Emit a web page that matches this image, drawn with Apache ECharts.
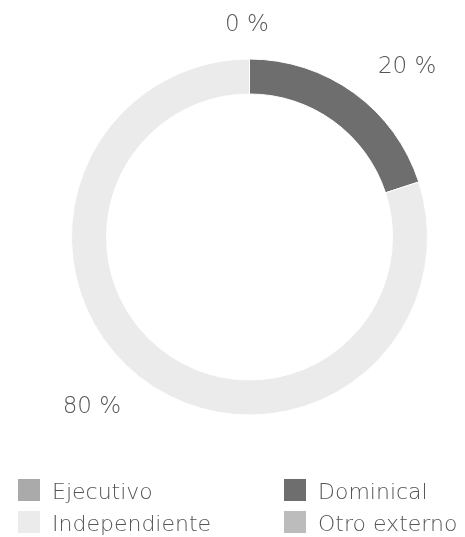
<!DOCTYPE html>
<html>
<head>
<meta charset="utf-8">
<script src="https://cdn.jsdelivr.net/npm/echarts@6/dist/echarts.min.js"></script>
<style>
html,body{margin:0;padding:0;background:#fff;}
#c{width:465px;height:537px;}
</style>
</head>
<body>
<div id="c"></div>
<script>
var categories = ['Ejecutivo', 'Dominical', 'Independiente', 'Otro externo'];
var values = [0, 20, 80, 0];
var colors = ['#aaaaaa', '#6e6e6e', '#ebebeb', '#bcbcbc'];
var showLabel = [true, true, true, false];

var chart = echarts.init(document.getElementById('c'));
var FONT = 'DejaVu Sans';
var data = categories.map(function (n, i) {
  return { name: n, value: values[i], itemStyle: { color: colors[i] }, label: { show: showLabel[i] } };
});
function legendAt(name, left, top) {
  return {
    data: [name], left: left, top: top, orient: 'horizontal',
    itemWidth: 24, itemHeight: 24, itemGap: 0, padding: 0,
    icon: 'rect', selectedMode: false,
    formatter: '{t|{name}}',
    textStyle: {
      fontFamily: FONT, fontWeight: 200, fontSize: 22, color: '#555555',
      rich: { t: { fontFamily: FONT, fontWeight: 200, fontSize: 22, color: '#555555', padding: [7, 0, 0, 6] } }
    }
  };
}
chart.setOption({
  animation: false,
  backgroundColor: '#ffffff',
  legend: [
    legendAt('Ejecutivo', 16, 477),
    legendAt('Dominical', 282, 477),
    legendAt('Independiente', 16, 509),
    legendAt('Otro externo', 282, 509)
  ],
  series: [{
    type: 'pie',
    center: [249.5, 237],
    radius: [143, 178],
    startAngle: 90,
    clockwise: true,
    avoidLabelOverlap: false,
    itemStyle: { borderColor: '#ffffff', borderWidth: 1 },
    emphasis: { disabled: true },
    label: {
      show: true, position: 'outside',
      formatter: function (p) { return p.value + ' %'; },
      fontFamily: FONT, fontWeight: 200, fontSize: 23, color: '#555555'
    },
    labelLine: { show: false, length: 32, length2: 0 },
    labelLayout: function (p) {
      if (p.dataIndex === 0) {
        return { x: 247, y: 25, align: 'center', verticalAlign: 'middle' };
      }
      return {};
    },
    data: data
  }]
});
</script>
</body>
</html>
